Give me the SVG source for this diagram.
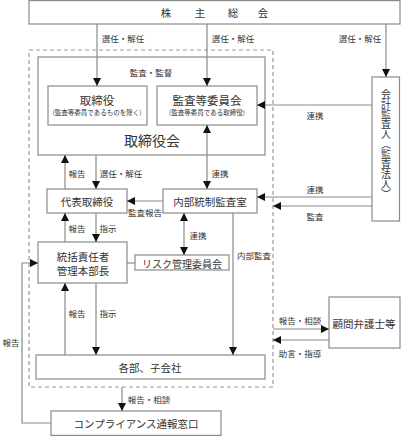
<svg xmlns="http://www.w3.org/2000/svg" width="401" height="436" viewBox="0 0 401 436">
<defs>
<marker id="ah" markerUnits="userSpaceOnUse" markerWidth="8" markerHeight="8" refX="8" refY="4" orient="auto-start-reverse" viewBox="0 0 8 8">
<path d="M0,0 L8,4 L0,8 z" fill="#111"/>
</marker>
<style>
.box{fill:#fff;stroke:#8a8a8a;stroke-width:1.2}
.ln{fill:none;stroke:#8a8a8a;stroke-width:1.2}
.ar{marker-end:url(#ah)}
.ar2{marker-start:url(#ah);marker-end:url(#ah)}
text{font-family:"Noto Sans CJK JP","Noto Sans CJK SC",sans-serif;fill:#333;text-anchor:middle;dominant-baseline:central}
.lb{font-size:8.5px}
.bx{font-size:10.5px}
.sm{font-size:6.5px}
</style>
</defs>
<rect width="401" height="436" fill="#fff"/>

<g id="dashed-area">
<rect x="29" y="50" width="244" height="337" fill="none" stroke="#999" stroke-width="1.2" stroke-dasharray="4,3"/>
</g>

<g id="kabunushi">
<rect class="box" x="29" y="0.6" width="371" height="23.4"/>
<text class="bx" x="166" y="12">株</text>
<text class="bx" x="200" y="12">主</text>
<text class="bx" x="233" y="12">総</text>
<text class="bx" x="263" y="12">会</text>
</g>

<g id="torishimariyakukai">
<rect class="box" x="38" y="57" width="227" height="98"/>
<text x="151" y="72" class="lb">監査・監督</text>
<text x="152" y="140" style="font-size:14px">取締役会</text>
</g>

<g id="torishimariyaku">
<rect class="box" x="48" y="86" width="99" height="39"/>
<text x="97" y="100" style="font-size:11.5px">取締役</text>
<text x="97" y="112" class="sm">(監査等委員であるものを除く)</text>
</g>

<g id="kansatou">
<rect class="box" x="157" y="86" width="100" height="39"/>
<text x="207" y="100" style="font-size:11.5px">監査等委員会</text>
<text x="207" y="112" class="sm">(監査等委員である取締役)</text>
</g>

<g id="kaikei">
<rect class="box" x="372" y="77" width="27.5" height="144"/>
<text x="386" y="144" style="font-size:10px;writing-mode:vertical-rl">会計監査人（監査法人）</text>
</g>

<g id="daihyo">
<rect class="box" x="47" y="189" width="80" height="24"/>
<text x="87" y="201" class="bx">代表取締役</text>
</g>

<g id="naibu">
<rect class="box" x="163" y="189" width="94" height="24"/>
<text x="210" y="201" class="bx">内部統制監査室</text>
</g>

<g id="tokatsu">
<rect class="box" x="38" y="242" width="89" height="41"/>
<text x="83" y="256" class="bx">統括責任者</text>
<text x="83" y="270" class="bx">管理本部長</text>
</g>

<g id="risk">
<rect class="box" x="135" y="255" width="94" height="15"/>
<text x="182" y="263" style="font-size:10px">リスク管理委員会</text>
</g>

<g id="kakubu">
<rect class="box" x="36" y="355" width="229" height="24"/>
<text x="150" y="367" class="bx">各部、子会社</text>
</g>

<g id="komon">
<rect class="box" x="329" y="297" width="71" height="51"/>
<text x="364" y="323" class="bx">顧問弁護士等</text>
</g>

<g id="madoguchi">
<rect class="box" x="51" y="411" width="170" height="24.4"/>
<text x="136" y="423" class="bx">コンプライアンス通報窓口</text>
</g>

<g id="connectors">
<path class="ln ar" d="M97,24 V86"/>
<path class="ln ar" d="M207,24 V86"/>
<path class="ln ar" d="M386,24 V77"/>
<path class="ln ar" d="M372,105 H257"/>
<path class="ln ar2" d="M207,125 V189"/>
<path class="ln ar" d="M65,189 V155"/>
<path class="ln ar" d="M96,155 V189"/>
<path class="ln ar" d="M163,201 H127"/>
<path class="ln ar" d="M372,197 H257"/>
<path class="ln ar" d="M372,206 H273"/>
<path class="ln ar" d="M65,242 V213"/>
<path class="ln ar" d="M96,213 V242"/>
<path class="ln ar2" d="M184,213 V255"/>
<path class="ln" d="M127,263 H135"/>
<path class="ln ar" d="M233,213 V355"/>
<path class="ln ar" d="M65,355 V283"/>
<path class="ln ar" d="M96,283 V355"/>
<path class="ln ar" d="M51,423 H22 V263 H38"/>
<path class="ln ar" d="M122,387 V411"/>
<path class="ln ar" d="M273,329 H329"/>
<path class="ln ar" d="M329,340 H273"/>
</g>

<g id="labels">
<text x="123" y="38" class="lb">選任・解任</text>
<text x="233" y="38" class="lb">選任・解任</text>
<text x="360" y="38" class="lb">選任・解任</text>
<text x="315" y="115" class="lb">連携</text>
<text x="77" y="173" class="lb">報告</text>
<text x="121" y="173" class="lb">選任・解任</text>
<text x="220" y="173" class="lb">連携</text>
<text x="145" y="212" class="lb">監査報告</text>
<text x="315" y="189" class="lb">連携</text>
<text x="315" y="216" class="lb">監査</text>
<text x="77" y="228" class="lb">報告</text>
<text x="108" y="228" class="lb">指示</text>
<text x="198" y="235" class="lb">連携</text>
<text x="254" y="255" class="lb">内部監査</text>
<text x="11" y="342" class="lb">報告</text>
<text x="77" y="313" class="lb">報告</text>
<text x="108" y="313" class="lb">指示</text>
<text x="149" y="399" class="lb">報告・相談</text>
<text x="300" y="320" class="lb">報告・相談</text>
<text x="300" y="353" class="lb">助言・指導</text>
</g>
</svg>
